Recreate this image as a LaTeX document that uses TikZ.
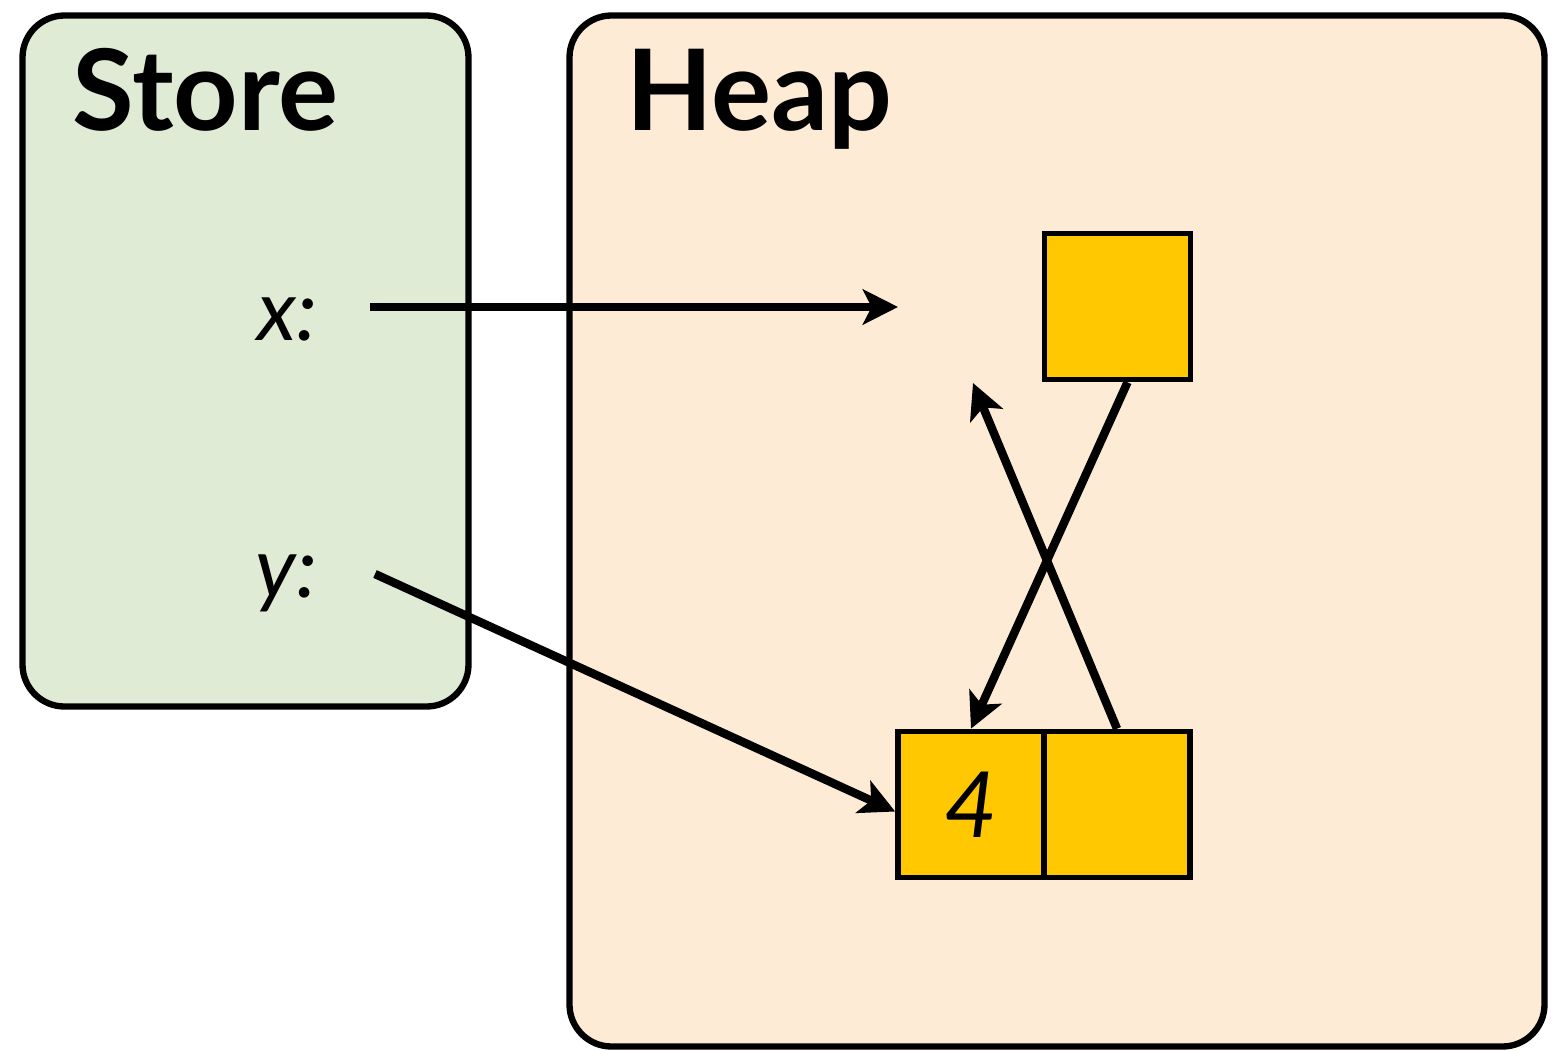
\documentclass[tikz,border=0pt]{standalone}
\usepackage{fontspec}
\setmainfont{Lato}
\usetikzlibrary{arrows.meta}

\definecolor{storegreen}{HTML}{E0EBD5}
\definecolor{heaporange}{HTML}{FDEBD6}
\definecolor{cellyellow}{HTML}{FFC800}

\begin{document}
\begin{tikzpicture}
      \tikzstyle{region} = [line width=1.8pt, draw=black, rectangle, rounded corners = 0.42cm, inner sep = 0pt]
      \tikzstyle{cell} = [line width=1.6pt, draw=black, fill=cellyellow, rectangle, minimum size = 1.46cm, inner sep = 0pt]
      \tikzstyle{title} = [font=\fontsize{32}{32}\selectfont\bfseries, anchor=base west, inner sep = 0pt]
      \tikzstyle{var} = [font=\fontsize{24}{24}\selectfont\itshape, anchor=base east, inner sep = 0pt]
      \tikzstyle{ptr} = [line width=2.4pt, -{Stealth[length=10pt, width=10pt, inset=2.5pt]}]

      \useasboundingbox (0,0) rectangle (15.58,-10.50);

      %%%%%%%%%%%%%%%%%%%%%%%%%%%%%% 
      %% The store with its two variables
      %%%%%%%%%%%%%%%%%%%%%%%%%%%%%% 
      \node[region, fill=storegreen, minimum width = 4.46cm, minimum height = 6.91cm] (store) at (2.455,-3.61) {};
      \node[title] (storetitle) at (0.72,-1.30) {Store};

      \node[var] (vx) at (3.18,-3.40) {x:};
      \node[var] (vy) at (3.18,-5.97) {y:};

      %%%%%%%%%%%%%%%%%%%%%%%%%%%%%% 
      %% The heap with its cells
      %%%%%%%%%%%%%%%%%%%%%%%%%%%%%% 
      \node[region, fill=heaporange, minimum width = 9.75cm, minimum height = 10.31cm] (heap) at (10.57,-5.31) {};
      \node[title] (heaptitle) at (6.26,-1.30) {Heap};

      \node[cell] (hc) at (11.175,-3.065) {};
      \node[cell] (ha) at (9.71,-8.045) {\fontsize{26}{26}\selectfont\itshape 4};
      \node[cell] (hb) at (11.17,-8.045) {};

      % free ends of the pointers
      \coordinate (xfrom) at (3.70,-3.07);
      \coordinate (xto) at (8.98,-3.07);
      \coordinate (yfrom) at (3.75,-5.74);
      \coordinate (hbto) at (9.73,-3.83);

      % pointers
      \draw[ptr] (xfrom) -- (xto);
      \draw[ptr] (yfrom) -- ([yshift=-0.07cm]ha.west);
      \draw[ptr] ([xshift=0.1cm]hc.south) -- (ha.north);
      \draw[ptr] (hb.north) -- (hbto);

    \end{tikzpicture}
\end{document}
